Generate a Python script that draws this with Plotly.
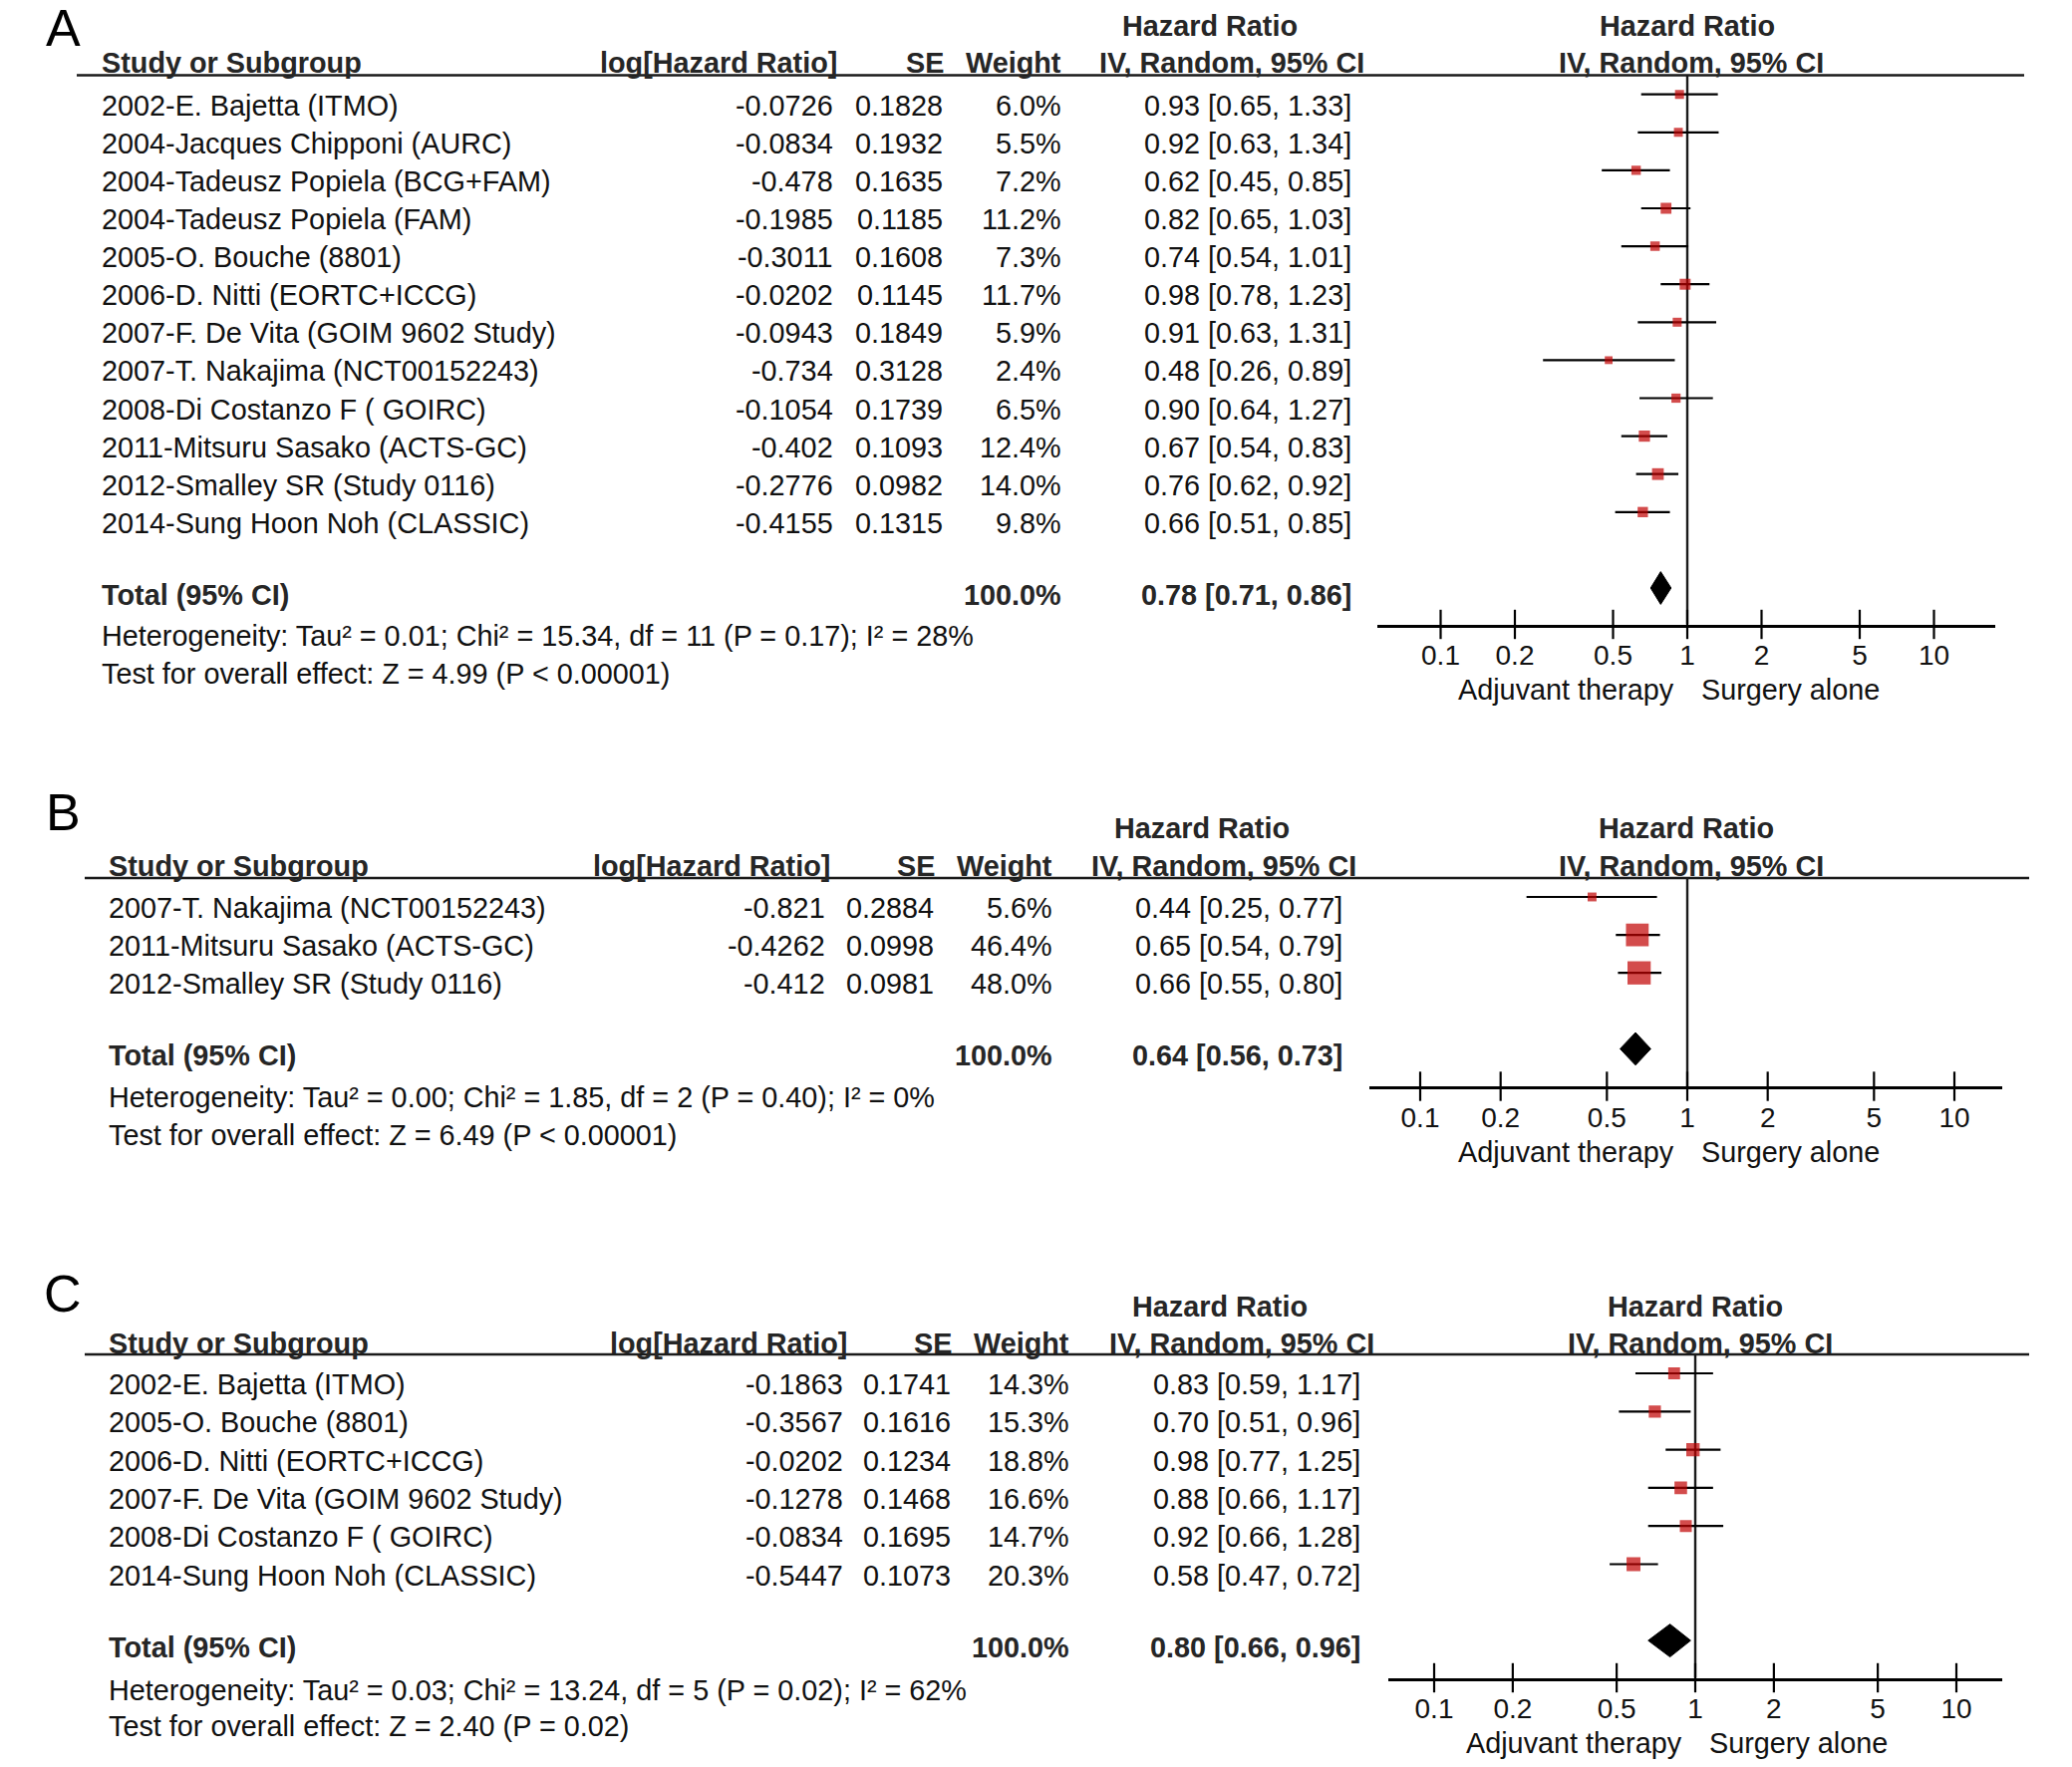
import plotly.graph_objects as go

W, H = 2079, 1773
FONT = "Liberation Sans, Arial, Helvetica, sans-serif"
LETTER_FONT = "Liberation Sans Narrow, Arial Narrow, Liberation Sans, sans-serif"

# ---------------- data ----------------
panel_letters = ["A", "B", "C"]
hr_header = "Hazard Ratio"
col_headers = ["Study or Subgroup", "log[Hazard Ratio]", "SE", "Weight", "IV, Random, 95% CI"]
total_label = "Total (95% CI)"
total_weight = "100.0%"
tick_vals = [0.1, 0.2, 0.5, 1, 2, 5, 10]
tick_text = ["0.1", "0.2", "0.5", "1", "2", "5", "10"]
side_labels = ["Adjuvant therapy", "Surgery alone"]

studies_A = ["2002-E. Bajetta (ITMO)", "2004-Jacques Chipponi (AURC)", "2004-Tadeusz Popiela (BCG+FAM)",
             "2004-Tadeusz Popiela (FAM)", "2005-O. Bouche (8801)", "2006-D. Nitti (EORTC+ICCG)",
             "2007-F. De Vita (GOIM 9602 Study)", "2007-T. Nakajima (NCT00152243)", "2008-Di Costanzo F ( GOIRC)",
             "2011-Mitsuru Sasako (ACTS-GC)", "2012-Smalley SR (Study 0116)", "2014-Sung Hoon Noh (CLASSIC)"]
loghr_A = [-0.0726, -0.0834, -0.478, -0.1985, -0.3011, -0.0202, -0.0943, -0.734, -0.1054, -0.402, -0.2776, -0.4155]
se_A = [0.1828, 0.1932, 0.1635, 0.1185, 0.1608, 0.1145, 0.1849, 0.3128, 0.1739, 0.1093, 0.0982, 0.1315]
weight_A = [6.0, 5.5, 7.2, 11.2, 7.3, 11.7, 5.9, 2.4, 6.5, 12.4, 14.0, 9.8]
hr_A = [0.93, 0.92, 0.62, 0.82, 0.74, 0.98, 0.91, 0.48, 0.90, 0.67, 0.76, 0.66]
lo_A = [0.65, 0.63, 0.45, 0.65, 0.54, 0.78, 0.63, 0.26, 0.64, 0.54, 0.62, 0.51]
hi_A = [1.33, 1.34, 0.85, 1.03, 1.01, 1.23, 1.31, 0.89, 1.27, 0.83, 0.92, 0.85]
total_A = [0.78, 0.71, 0.86]
het_A = "Heterogeneity: Tau² = 0.01; Chi² = 15.34, df = 11 (P = 0.17); I² = 28%"
test_A = "Test for overall effect: Z = 4.99 (P < 0.00001)"

studies_B = ["2007-T. Nakajima (NCT00152243)", "2011-Mitsuru Sasako (ACTS-GC)", "2012-Smalley SR (Study 0116)"]
loghr_B = [-0.821, -0.4262, -0.412]
se_B = [0.2884, 0.0998, 0.0981]
weight_B = [5.6, 46.4, 48.0]
hr_B = [0.44, 0.65, 0.66]
lo_B = [0.25, 0.54, 0.55]
hi_B = [0.77, 0.79, 0.80]
total_B = [0.64, 0.56, 0.73]
het_B = "Heterogeneity: Tau² = 0.00; Chi² = 1.85, df = 2 (P = 0.40); I² = 0%"
test_B = "Test for overall effect: Z = 6.49 (P < 0.00001)"

studies_C = ["2002-E. Bajetta (ITMO)", "2005-O. Bouche (8801)", "2006-D. Nitti (EORTC+ICCG)",
             "2007-F. De Vita (GOIM 9602 Study)", "2008-Di Costanzo F ( GOIRC)", "2014-Sung Hoon Noh (CLASSIC)"]
loghr_C = [-0.1863, -0.3567, -0.0202, -0.1278, -0.0834, -0.5447]
se_C = [0.1741, 0.1616, 0.1234, 0.1468, 0.1695, 0.1073]
weight_C = [14.3, 15.3, 18.8, 16.6, 14.7, 20.3]
hr_C = [0.83, 0.70, 0.98, 0.88, 0.92, 0.58]
lo_C = [0.59, 0.51, 0.77, 0.66, 0.66, 0.47]
hi_C = [1.17, 0.96, 1.25, 1.17, 1.28, 0.72]
total_C = [0.80, 0.66, 0.96]
het_C = "Heterogeneity: Tau² = 0.03; Chi² = 13.24, df = 5 (P = 0.02); I² = 62%"
test_C = "Test for overall effect: Z = 2.40 (P = 0.02)"

# ---------------- layout (pixel geometry) ----------------
panels = [
    dict(studies=studies_A, loghr=loghr_A, se=se_A, w=weight_A, hr=hr_A, lo=lo_A, hi=hi_A,
         total=total_A, het=het_A, test=test_A,
         letter_y=60, hdr1_y=27.5, hdr2_y=64, line_y=76.5, row0=95.7, step=38.1, axis_y=627.5,
         line_x0=76, line_x1=2030, ax_x0=1381, ax_x1=2001, x1=1692, dec=247.5,
         study_x=99, loghr_x=837, loghr_hx=841, se_x=947, se_hx=948, w_x=1066, ci_x=1357,
         hrh_x=1213, ivh_x=1235, plot_hx=1692, plot_ivx=1696,
         het_y=639, test_y=677, side_y=693),
    dict(studies=studies_B, loghr=loghr_B, se=se_B, w=weight_B, hr=hr_B, lo=lo_B, hi=hi_B,
         total=total_B, het=het_B, test=test_B,
         letter_y=847, hdr1_y=832, hdr2_y=870, line_y=882, row0=901, step=38.1, axis_y=1091,
         line_x0=84, line_x1=2035, ax_x0=1373, ax_x1=2008, x1=1692, dec=268,
         study_x=106, loghr_x=829, loghr_hx=834, se_x=938, se_hx=939, w_x=1057, ci_x=1348,
         hrh_x=1205, ivh_x=1227, plot_hx=1691, plot_ivx=1696,
         het_y=1102, test_y=1140, side_y=1157),
    dict(studies=studies_C, loghr=loghr_C, se=se_C, w=weight_C, hr=hr_C, lo=lo_C, hi=hi_C,
         total=total_C, het=het_C, test=test_C,
         letter_y=1330, hdr1_y=1312, hdr2_y=1349, line_y=1360, row0=1379, step=38.3, axis_y=1684.5,
         line_x0=84, line_x1=2035, ax_x0=1392, ax_x1=2008, x1=1700, dec=262,
         study_x=106, loghr_x=847, loghr_hx=851, se_x=955, se_hx=956, w_x=1074, ci_x=1366,
         hrh_x=1223, ivh_x=1245, plot_hx=1700, plot_ivx=1705,
         het_y=1697, test_y=1733, side_y=1750),
]

DX, DY = -7, -9


def px(x):
    return (x + DX) / W


def py(y):
    return 1 - (y + DY) / H


fig = go.Figure()
annotations = []
shapes = []
BLACK = "#111111"
BOLD = "#262626"
RED = "#C00000"
FS = 28.8

for k, p in enumerate(panels):
    n = len(p["studies"])
    xa = "x" if k == 0 else f"x{k+1}"
    ya = "y" if k == 0 else f"y{k+1}"
    xkey = "xaxis" if k == 0 else f"xaxis{k+1}"
    ykey = "yaxis" if k == 0 else f"yaxis{k+1}"
    top = (p["line_y"] - p["row0"]) / p["step"]
    bottom = (p["axis_y"] - p["row0"]) / p["step"]
    rows = list(range(n))
    trow = n + 1

    # vertical reference line at HR = 1
    fig.add_trace(go.Scatter(x=[1, 1], y=[top, bottom], mode="lines", xaxis=xa, yaxis=ya,
                             line=dict(color="#1a1a1a", width=2.4), hoverinfo="skip", showlegend=False))
    # CI lines
    cx, cy = [], []
    for i in rows:
        cx += [p["lo"][i], p["hi"][i], None]
        cy += [i, i, None]
    fig.add_trace(go.Scatter(x=cx, y=cy, mode="lines", xaxis=xa, yaxis=ya,
                             line=dict(color="black", width=2.2), hoverinfo="skip", showlegend=False))
    # squares (size grows with weight)
    fig.add_trace(go.Scatter(x=p["hr"], y=rows, mode="markers", xaxis=xa, yaxis=ya,
                             marker=dict(symbol="square", color=RED, size=[7 + 0.34 * w for w in p["w"]],
                                         line=dict(width=0)),
                             hoverinfo="skip", showlegend=False))
    # diamond
    t, tl, th = p["total"]
    fig.add_trace(go.Scatter(x=[tl, t, th, t, tl], y=[trow, trow - 0.43, trow, trow + 0.43, trow],
                             mode="lines", fill="toself", fillcolor="black", xaxis=xa, yaxis=ya,
                             line=dict(color="black", width=1), hoverinfo="skip", showlegend=False))
    # crossing tick marks
    fig.add_trace(go.Scatter(x=tick_vals, y=[bottom] * len(tick_vals), mode="markers", xaxis=xa, yaxis=ya,
                             cliponaxis=False,
                             marker=dict(symbol="line-ns", size=21, line=dict(color="black", width=2.2)),
                             hoverinfo="skip", showlegend=False))

    fig.layout[xkey] = dict(type="log", domain=[px(p["ax_x0"]), px(p["ax_x1"])],
                            range=[(p["ax_x0"] - p["x1"]) / p["dec"], (p["ax_x1"] - p["x1"]) / p["dec"]],
                            anchor=ya, showline=True, linewidth=3, linecolor="black", showgrid=False,
                            zeroline=False, ticks="", tickvals=tick_vals, ticktext=tick_text,
                            ticklabelstandoff=4,
                            tickfont=dict(family=FONT, size=28, color=BLACK), fixedrange=True)
    fig.layout[ykey] = dict(domain=[py(p["axis_y"]), py(p["line_y"])], range=[bottom, top], anchor=xa,
                            showgrid=False, zeroline=False, showline=False, showticklabels=False,
                            ticks="", fixedrange=True)

    # header underline
    shapes.append(dict(type="line", xref="paper", yref="paper", x0=px(p["line_x0"]), x1=px(p["line_x1"]),
                       y0=py(p["line_y"]), y1=py(p["line_y"]), line=dict(color="#1a1a1a", width=2.5)))

    def ann(text, x, y, xanchor="left", size=FS, color=BLACK, xref="paper", yref="paper", yshift=0, xshift=0,
            yanchor="middle", family=FONT):
        annotations.append(dict(text=text, x=x, y=y, xref=xref, yref=yref, xanchor=xanchor, yanchor=yanchor,
                                showarrow=False, yshift=yshift, xshift=xshift,
                                font=dict(family=family, size=size, color=color)))

    # panel letter
    ann(panel_letters[k], px(62), py(p["letter_y"]), xanchor="center", size=52, color="black",
        yanchor="bottom", family=LETTER_FONT)
    # header row 1
    ann(f"<b>{hr_header}</b>", px(p["hrh_x"]), py(p["hdr1_y"]), "center", color=BOLD)
    ann(f"<b>{hr_header}</b>", px(p["plot_hx"]), py(p["hdr1_y"]), "center", color=BOLD)
    # header row 2
    ann(f"<b>{col_headers[0]}</b>", px(p["study_x"]), py(p["hdr2_y"]), "left", color=BOLD)
    ann(f"<b>{col_headers[1]}</b>", px(p["loghr_hx"]), py(p["hdr2_y"]), "right", color=BOLD)
    ann(f"<b>{col_headers[2]}</b>", px(p["se_hx"]), py(p["hdr2_y"]), "right", color=BOLD)
    ann(f"<b>{col_headers[3]}</b>", px(p["w_x"]), py(p["hdr2_y"]), "right", color=BOLD)
    ann(f"<b>{col_headers[4]}</b>", px(p["ivh_x"]), py(p["hdr2_y"]), "center", color=BOLD)
    ann(f"<b>{col_headers[4]}</b>", px(p["plot_ivx"]), py(p["hdr2_y"]), "center", color=BOLD)

    # study rows
    for i in rows:
        ann(p["studies"][i], px(p["study_x"]), i, "left", yref=ya, yshift=-11)
        ann(str(p["loghr"][i]), px(p["loghr_x"]), i, "right", yref=ya, yshift=-11)
        ann(str(p["se"][i]), px(p["se_x"]), i, "right", yref=ya, yshift=-11)
        ann(f"{p['w'][i]:.1f}%", px(p["w_x"]), i, "right", yref=ya, yshift=-11)
        ann(f"{p['hr'][i]:.2f} [{p['lo'][i]:.2f}, {p['hi'][i]:.2f}]", px(p["ci_x"]), i, "right",
            yref=ya, yshift=-11)
    # total row
    ann(f"<b>{total_label}</b>", px(p["study_x"]), trow, "left", yref=ya, yshift=-7, color=BOLD)
    ann(f"<b>{total_weight}</b>", px(p["w_x"]), trow, "right", yref=ya, yshift=-7, color=BOLD)
    ann(f"<b>{t:.2f} [{tl:.2f}, {th:.2f}]</b>", px(p["ci_x"]), trow, "right", yref=ya, yshift=-7, color=BOLD)
    # heterogeneity / overall test
    ann(p["het"], px(p["study_x"]), py(p["het_y"]), "left")
    ann(p["test"], px(p["study_x"]), py(p["test_y"]), "left")
    # direction labels
    ann(side_labels[0], 0, py(p["side_y"]), "right", xref=xa, xshift=-11)
    ann(side_labels[1], 0, py(p["side_y"]), "left", xref=xa, xshift=12)

fig.update_layout(width=W, height=H, margin=dict(l=0, r=0, t=0, b=0), paper_bgcolor="white",
                  plot_bgcolor="rgba(0,0,0,0)", annotations=annotations, shapes=shapes, showlegend=False,
                  font=dict(family=FONT, size=FS, color=BLACK))

fig.write_html("out.html")
